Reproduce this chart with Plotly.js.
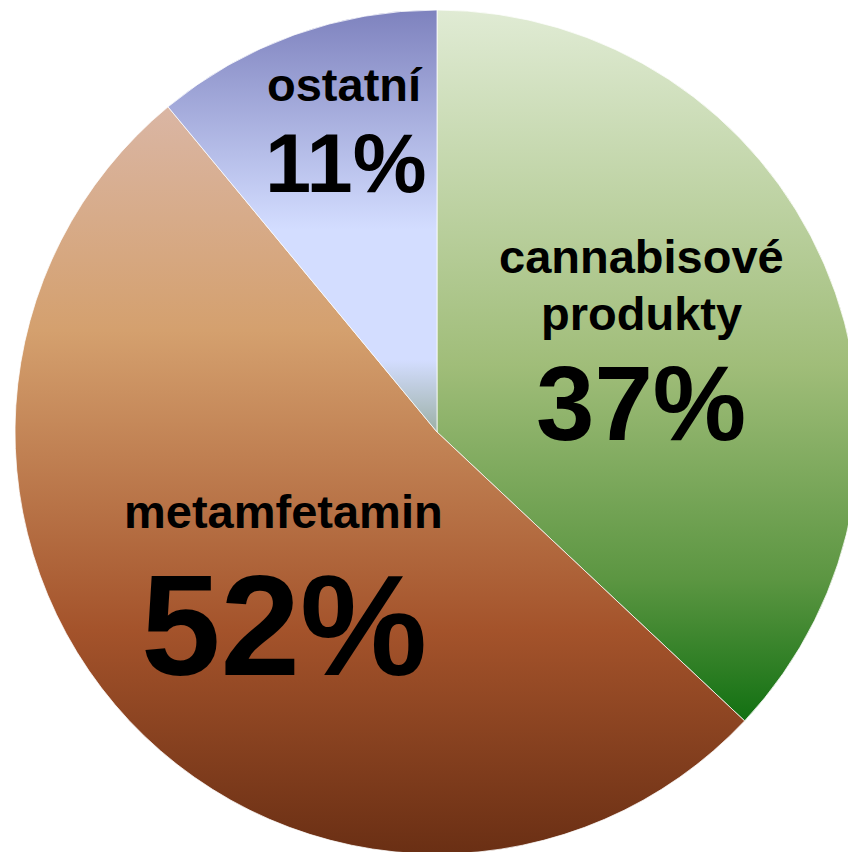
<!DOCTYPE html>
<html>
<head>
<meta charset="utf-8">
<script src="https://cdn.plot.ly/plotly-3.0.1.min.js"></script>
<style>
html, body { margin: 0; padding: 0; overflow: hidden; background: #fff; width: 848px; height: 852px; }
#chart { width: 880px; height: 870px; }
</style>
</head>
<body>
<div id="chart"></div>
<script>
// ---- data ----
const labels = ['cannabisové produkty', 'metamfetamin', 'ostatní'];
const labelLines = [['cannabisové', 'produkty'], ['metamfetamin'], ['ostatní']];
const values = [37, 52, 11];

// ---- style ----
const W = 880, H = 870;
const cx = 437, cy = 432, R = 422;
const FONT = 'Arial, "Liberation Sans", sans-serif';
const gradients = [
  [[0, '#e0ebd4'], [0.5, '#a0bd79'], [0.8, '#5c9642'], [1, '#127012']],
  [[0, '#dab6a4'], [0.3, '#d4a06e'], [0.7, '#a4532b'], [1, '#6a2f14']],
  [[0, '#7e82be'], [0.52, '#d3ddff'], [0.83, '#d3ddff'], [1, '#9cb0a6']]
];
// label placement (pixel centres / baselines)
const labelStyle = [
  { x: 641, base: [273, 330], size: 47, px: 641, pbase: 440, psize: 105 },
  { x: 283, base: [528], size: 47, px: 284, pbase: 675, psize: 143 },
  { x: 345, base: [101], size: 47, px: 346, pbase: 192, psize: 83 }
];

const total = values.reduce((a, b) => a + b, 0);
const ax = px => px / W;
const ay = (base, s) => 1 - (base - 0.3465 * s) / H;

const annotations = [];
labels.forEach((lab, i) => {
  const st = labelStyle[i];
  labelLines[i].forEach((line, j) => {
    annotations.push({
      xref: 'paper', yref: 'paper', x: ax(st.x), y: ay(st.base[j], st.size),
      xanchor: 'center', yanchor: 'middle', showarrow: false, text: line,
      font: { family: FONT, size: st.size, color: '#000', weight: 'bold' }
    });
  });
  annotations.push({
    xref: 'paper', yref: 'paper', x: ax(st.px), y: ay(st.pbase, st.psize),
    xanchor: 'center', yanchor: 'middle', showarrow: false,
    text: Math.round(values[i] / total * 100) + '%',
    font: { family: FONT, size: st.psize, color: '#000', weight: 'bold' }
  });
});

const trace = {
  type: 'pie',
  labels: labels,
  values: values,
  sort: false,
  direction: 'clockwise',
  rotation: 0,
  textinfo: 'none',
  hoverinfo: 'none',
  showlegend: false,
  marker: {
    colors: gradients.map(g => g[1][1]),
    line: { color: 'rgba(255,255,255,0.75)', width: 1 }
  },
  domain: { x: [(cx - R) / W, (cx + R) / W], y: [(H - cy - R) / H, (H - cy + R) / H] }
};

const layout = {
  width: W, height: H,
  margin: { l: 0, r: 0, t: 0, b: 0, pad: 0 },
  paper_bgcolor: '#ffffff',
  plot_bgcolor: '#ffffff',
  showlegend: false,
  annotations: annotations
};

Plotly.newPlot('chart', [trace], layout, { staticPlot: true, displayModeBar: false }).then(gd => {
  const svg = gd.querySelector('svg.main-svg');
  let defs = svg.querySelector('defs');
  if (!defs) { defs = document.createElementNS('http://www.w3.org/2000/svg', 'defs'); svg.insertBefore(defs, svg.firstChild); }
  gradients.forEach((stops, i) => {
    const lg = document.createElementNS('http://www.w3.org/2000/svg', 'linearGradient');
    lg.setAttribute('id', 'sliceGrad' + i);
    lg.setAttribute('x1', '0'); lg.setAttribute('y1', '0');
    lg.setAttribute('x2', '0'); lg.setAttribute('y2', '1');
    stops.forEach(([o, c]) => {
      const s = document.createElementNS('http://www.w3.org/2000/svg', 'stop');
      s.setAttribute('offset', o);
      s.setAttribute('stop-color', c);
      lg.appendChild(s);
    });
    defs.appendChild(lg);
  });
  gd.querySelectorAll('g.slice path.surface').forEach((p, i) => {
    p.style.fill = 'url(#sliceGrad' + i + ')';
  });
});
</script>
</body>
</html>
